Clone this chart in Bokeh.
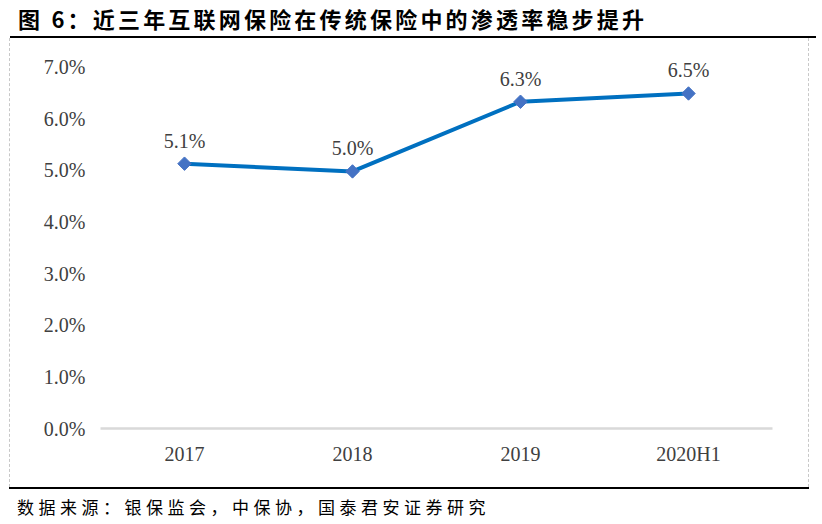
from bokeh.plotting import figure
from bokeh.models import Div, Range1d, FixedTicker, PrintfTickFormatter, ColumnDataSource, LabelSet
from bokeh.layouts import column
from bokeh.embed import file_html
from bokeh.resources import INLINE

categories = ["2017", "2018", "2019", "2020H1"]
values = [5.13, 4.98, 6.33, 6.49]
labels = ["5.1%", "5.0%", "6.3%", "6.5%"]
y_ticks = [0, 1, 2, 3, 4, 5, 6, 7]
title_text = "图 6：近三年互联网保险在传统保险中的渗透率稳步提升"
source_text = "数据来源：银保监会，中保协，国泰君安证券研究"

src = ColumnDataSource(dict(x=categories, y=values, lab=labels))

p = figure(x_range=categories, y_range=Range1d(0, 7.4), width=798, height=449,
           output_backend="svg", toolbar_location=None,
           min_border_left=90, min_border_right=36, min_border_top=8, min_border_bottom=59)
p.outline_line_color = None
p.xgrid.visible = False
p.ygrid.visible = False
p.background_fill_color = "white"
p.border_fill_color = "white"

p.yaxis.ticker = FixedTicker(ticks=y_ticks)
p.yaxis.formatter = PrintfTickFormatter(format="%.1f%%")
p.yaxis.axis_line_color = None
p.yaxis.major_tick_line_color = None
p.yaxis.minor_tick_line_color = None
p.yaxis.major_tick_out = 0
p.yaxis.major_tick_in = 0
p.yaxis.major_label_standoff = 15
p.yaxis.major_label_text_font = "Liberation Serif"
p.yaxis.major_label_text_font_size = "20px"
p.yaxis.major_label_text_color = "#404040"

p.xaxis.axis_line_color = "#d9d9d9"
p.xaxis.axis_line_width = 2.5
p.xaxis.major_tick_line_color = None
p.xaxis.minor_tick_line_color = None
p.xaxis.major_tick_out = 0
p.xaxis.major_tick_in = 0
p.xaxis.major_label_standoff = 14
p.xaxis.major_label_text_font = "Liberation Serif"
p.xaxis.major_label_text_font_size = "20px"
p.xaxis.major_label_text_color = "#404040"

p.line("x", "y", source=src, line_color="#0070C0", line_width=4)
p.scatter("x", "y", source=src, marker="square", size=9.5, angle=0.7854,
          fill_color="#4472C4", line_color="#4472C4")
p.add_layout(LabelSet(x="x", y="y", text="lab", source=src, text_align="center",
                      text_baseline="middle", y_offset=23,
                      text_font="Liberation Serif", text_font_size="20px",
                      text_color="#404040"))

title_div = Div(text=title_text, width=798, height=36, margin=(0, 0, 0, 10),
                styles={"font-family": "'Noto Sans CJK SC'", "font-weight": "bold",
                        "font-size": "22px", "letter-spacing": "3.2px", "color": "#000",
                        "border-bottom": "2px solid #000", "line-height": "36px",
                        "padding-left": "8px", "box-sizing": "content-box",
                        "white-space": "nowrap"})
box = column(p, margin=(0, 0, 0, 9),
             styles={"border-left": "1px dashed #c8c8c8", "border-right": "1px dashed #c8c8c8"})
footer_div = Div(text=source_text, width=792, height=35, margin=(0, 0, 0, 9),
                 styles={"font-family": "'Noto Sans CJK SC'", "font-size": "17px",
                         "letter-spacing": "4.5px", "color": "#000",
                         "border-top": "2px solid #000", "line-height": "35px",
                         "padding-left": "8px", "box-sizing": "content-box",
                         "white-space": "nowrap"})
layout = column(title_div, box, footer_div, spacing=0)

open("out.html", "w").write(file_html(layout, INLINE))
